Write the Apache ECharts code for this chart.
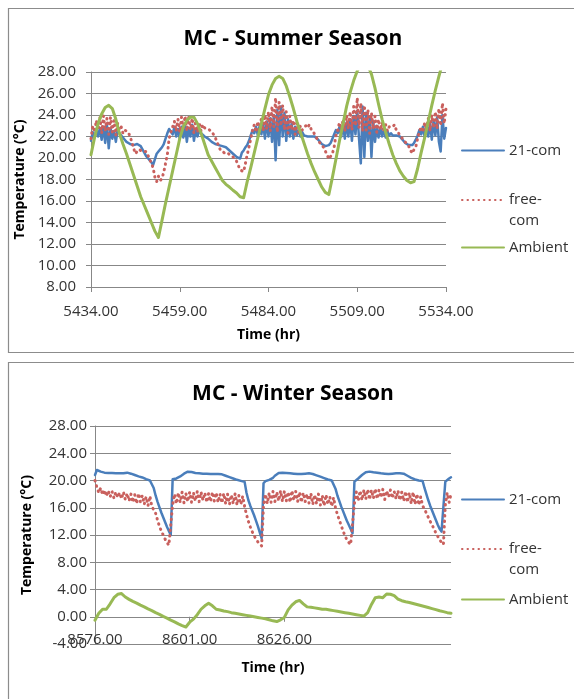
<!DOCTYPE html>
<html><head><meta charset="utf-8">
<script src="https://cdn.jsdelivr.net/npm/echarts@6/dist/echarts.min.js"></script>
<style>html,body{margin:0;padding:0;background:#fff}#c{width:574px;height:699px}</style>
</head><body><div id="c"></div>
<script>
// ---------- data ----------
const seriesNames = ['21-com', 'free-com', 'Ambient'];
const summerStart = 5434, summerEnd = 5534;
const winterStart = 8576, winterEnd = 8670;
const sampleStep = 0.5;   // hours between 21-com / free-com samples
const ambientStep = 1;    // hours between Ambient samples
const summerXTicks = [5434, 5459, 5484, 5509, 5534];
const winterXTicks = [8576, 8601, 8626, 8651];

const summer21com = [
  21.6, 22.4, 21.9, 22.6, 22.0, 22.8, 21.7, 22.9, 21.4, 23.1,
  20.9, 22.8, 21.8, 22.5, 21.5, 22.6, 22.3, 22.2, 21.9, 21.7,
  21.5, 21.4, 21.3, 21.2, 21.2, 21.2, 21.3, 21.3, 21.1, 20.8,
  20.5, 20.2, 20.0, 19.8, 19.6, 19.35, 19.3, 20.4, 20.6, 20.8,
  21.0, 21.3, 21.8, 22.3, 22.7, 22.8, 22.2, 22.9, 22.0, 22.7,
  21.8, 22.9, 21.9, 23.0, 21.5, 22.8, 22.0, 23.1, 21.6, 22.7,
  22.0, 22.6, 22.3, 22.2, 22.0, 21.9, 21.8, 21.7, 21.5, 21.4,
  21.3, 21.2, 21.2, 21.1, 21.1, 21.05, 21.0, 20.9, 20.7, 20.6,
  20.4, 20.3, 20.1, 20.0, 19.95, 20.5, 20.7, 21.0, 21.2, 21.6,
  22.1, 22.6, 22.3, 22.9, 22.1, 23.0, 22.2, 23.2, 21.8, 23.4,
  22.0, 23.7, 21.5, 24.0, 19.8, 24.5, 21.2, 24.8, 22.0, 24.2,
  21.6, 23.6, 22.0, 23.2, 21.8, 22.9, 22.1, 22.7, 22.0, 22.4,
  22.1, 22.0, 22.0, 22.0, 22.0, 22.0, 22.0, 21.9, 21.7, 21.5,
  21.3, 21.2, 21.1, 21.0, 21.2, 21.4, 21.8, 22.2, 22.6, 22.3,
  22.9, 22.0, 23.1, 21.8, 23.3, 22.0, 23.6, 21.6, 23.9, 22.2,
  24.4, 21.8, 19.5, 24.8, 20.1, 24.2, 21.6, 23.8, 20.1, 23.4,
  21.5, 23.0, 21.9, 22.8, 22.0, 22.6, 21.9, 22.5, 22.1, 22.3,
  22.1, 22.1, 22.1, 22.1, 22.0, 21.8, 21.6, 21.4, 21.3, 21.2,
  21.05, 21.2, 21.4, 21.7, 22.1, 22.6, 22.2, 22.9, 21.9, 23.1,
  22.0, 23.3, 21.7, 23.5, 22.1, 23.8, 21.5, 20.6, 24.0, 21.8, 22.8
];
const summerFreeCom = [
  21.8, 23.0, 22.4, 23.5, 22.6, 23.8, 22.3, 23.9, 22.5, 23.7,
  22.2, 23.8, 22.4, 23.5, 22.1, 23.2, 22.6, 22.9, 22.3, 22.6,
  22.6, 22.4, 22.0, 21.5, 20.9, 20.4, 20.6, 20.8, 20.7, 20.6,
  20.6, 20.6, 20.3, 19.9, 19.5, 19.1, 18.2, 17.8, 18.3, 17.9,
  18.1, 18.7, 19.5, 20.3, 21.8, 22.4, 22.9, 23.4, 22.5, 23.6,
  22.4, 23.8, 22.7, 23.9, 22.5, 23.8, 22.6, 23.7, 22.3, 23.5,
  22.4, 23.3, 22.5, 23.1, 22.8, 22.9, 22.7, 22.6, 22.45, 22.2,
  21.9, 21.5, 21.1, 20.7, 20.6, 20.5, 20.4, 20.5, 20.3, 20.2,
  20.1, 19.97, 19.7, 19.3, 18.9, 18.8, 18.73, 19.5, 20.3, 21.0,
  21.8, 22.6, 23.1, 22.4, 23.4, 22.6, 23.7, 22.5, 24.0, 22.7,
  24.3, 22.5, 24.8, 22.9, 25.6, 22.4, 25.2, 23.0, 24.9, 22.6,
  24.3, 22.3, 23.9, 22.6, 23.5, 22.2, 23.3, 22.4, 23.0, 22.6,
  22.8, 23.0, 22.8, 23.1, 22.7, 22.5, 22.2, 21.9, 21.6, 21.4,
  21.2, 21.0, 20.9, 20.3, 19.9, 19.8, 20.4, 21.05, 22.1, 22.6,
  23.3, 22.4, 23.6, 22.5, 24.0, 22.7, 24.3, 22.6, 24.8, 23.0,
  25.6, 22.8, 25.1, 22.5, 24.9, 22.6, 24.5, 22.3, 24.2, 22.7,
  23.9, 22.4, 23.6, 22.6, 23.3, 22.4, 23.1, 22.5, 22.9, 22.76,
  22.9, 23.1, 22.6, 22.4, 22.1, 21.9, 21.7, 21.6, 21.3, 21.1,
  20.7, 20.43, 20.8, 21.05, 21.8, 22.45, 22.9, 22.4, 23.3, 22.6,
  23.7, 22.5, 24.0, 22.8, 24.3, 22.7, 24.6, 23.0, 25.1, 23.2, 24.6
];
const summerAmbient = [
  20.3, 21.9, 23.2, 24.1, 24.7, 24.9, 24.6, 23.6, 22.3, 21.3,
  20.4, 19.4, 18.4, 17.4, 16.4, 15.6, 14.8, 14.0, 13.2, 12.6,
  14.2, 15.8, 17.3, 18.8, 20.3, 21.8, 22.9, 23.5, 23.8, 23.8,
  23.2, 22.3, 21.3, 20.3, 19.7, 19.1, 18.5, 17.9, 17.55, 17.3,
  17.0, 16.75, 16.4, 16.3, 17.8, 19.1, 20.5, 21.9, 23.2, 24.6,
  25.9, 26.8, 27.4, 27.6, 27.4, 26.7, 25.7, 24.6, 23.4, 22.4,
  21.4, 20.4, 19.5, 18.7, 18.0, 17.3, 16.8, 16.6, 18.2, 19.9,
  21.6, 23.2, 24.8, 26.1, 27.2, 28.1, 28.7, 28.9, 28.6, 27.8,
  26.5, 25.0, 23.6, 22.4, 21.3, 20.3, 19.5, 18.8, 18.3, 17.9,
  17.7, 17.8, 19.0, 20.5, 21.9, 23.4, 24.9, 26.3, 27.6, 28.8,
  29.8
];

const winter21com = [
  20.8, 21.54, 21.4, 21.3, 21.2, 21.15, 21.1, 21.1, 21.15, 21.1,
  21.1, 21.05, 21.1, 21.05, 21.0, 21.05, 21.06, 21.15, 21.15, 21.0,
  20.9, 20.8, 20.7, 20.6, 20.56, 20.45, 20.3, 20.2, 20.1, 20.0,
  19.93, 18.9, 17.8, 16.9, 16.1, 15.3, 14.6, 13.9, 13.2, 12.6,
  12.0, 20.17, 20.2, 20.3, 20.4, 20.6, 20.8, 21.0, 21.2, 21.3,
  21.3, 21.25, 21.2, 21.1, 21.05, 21.05, 21.0, 21.0, 21.0, 21.0,
  21.0, 20.95, 20.95, 20.95, 21.0, 20.95, 20.95, 20.9, 20.8, 20.7,
  20.6, 20.5, 20.4, 20.3, 20.2, 20.1, 20.0, 19.95, 19.9, 19.8,
  18.2, 17.1, 16.3, 15.6, 14.9, 14.1, 13.3, 12.4, 11.5, 19.6,
  19.9, 20.17, 20.1, 20.07, 20.4, 20.7, 20.9, 21.1, 21.15, 21.15,
  21.1, 21.1, 21.05, 21.05, 21.0, 21.0, 20.95, 20.95, 20.95, 20.95,
  20.95, 21.0, 21.0, 21.05, 21.05, 20.95, 20.85, 20.75, 20.65, 20.56,
  20.45, 20.35, 20.25, 20.15, 20.1, 20.0, 19.95, 18.8, 17.8, 17.0,
  16.2, 15.5, 14.8, 14.1, 13.5, 12.9, 12.25, 19.83, 20.1, 20.3,
  20.5, 20.8, 21.0, 21.2, 21.3, 21.3, 21.25, 21.2, 21.15, 21.15,
  21.1, 21.05, 21.0, 21.0, 20.95, 20.95, 20.95, 21.0, 21.0, 21.05,
  21.05, 21.05, 21.05, 21.0, 20.85, 20.7, 20.55, 20.4, 20.3, 20.15,
  20.05, 20.0, 19.95, 19.93, 18.9, 18.0, 17.1, 16.3, 15.6, 14.9,
  14.2, 13.5, 12.9, 12.5, 12.25, 19.83, 20.1, 20.3, 20.47
];
const winterFreeCom = [
  20.0, 19.0, 18.2, 18.9, 17.9, 18.6, 17.7, 18.5, 17.6, 18.4,
  17.4, 18.3, 17.5, 18.2, 17.3, 18.3, 17.2, 18.1, 17.0, 18.0,
  16.8, 17.9, 16.6, 18.1, 16.9, 17.8, 16.5, 17.6, 16.3, 17.7,
  16.2, 16.4, 15.2, 14.2, 13.3, 12.6, 12.0, 11.4, 10.9, 10.5,
  10.3, 16.4, 18.0, 16.6, 18.2, 16.8, 18.3, 16.7, 18.1, 16.9,
  18.3, 16.8, 18.2, 17.0, 18.4, 16.9, 18.3, 17.1, 18.2, 16.8,
  18.1, 16.9, 18.3, 17.0, 18.2, 16.8, 18.0, 16.7, 18.1, 16.6,
  18.0, 16.5, 17.9, 16.6, 18.1, 16.4, 17.8, 16.5, 17.7, 16.2,
  15.0, 14.0, 13.2, 12.5, 11.9, 11.4, 11.0, 10.7, 10.4, 16.3,
  18.0, 16.6, 18.2, 16.8, 18.4, 16.9, 18.3, 17.0, 18.5, 16.9,
  18.4, 17.0, 18.3, 16.8, 18.5, 17.1, 18.4, 16.9, 18.3, 16.8,
  18.2, 16.9, 18.0, 16.7, 18.1, 16.5, 17.9, 16.6, 18.0, 16.4,
  17.8, 16.3, 17.9, 16.5, 17.6, 16.2, 17.5, 16.0, 15.0, 14.2,
  13.4, 12.6, 11.9, 11.3, 10.9, 10.6, 10.4, 16.6, 18.3, 17.0,
  18.5, 17.1, 18.6, 17.3, 18.7, 17.2, 18.6, 17.4, 18.8, 17.3,
  18.6, 17.5, 18.7, 17.2, 18.5, 17.6, 18.6, 17.4, 18.4, 17.3,
  18.5, 17.1, 18.3, 17.0, 18.4, 16.8, 18.2, 16.6, 18.3, 16.5,
  18.0, 16.4, 17.6, 16.3, 15.8, 15.2, 14.6, 14.0, 13.5, 12.9,
  12.3, 11.8, 11.3, 10.9, 10.6, 16.4, 18.2, 16.8, 18.0
];
const winterAmbient = [
  -0.5, 0.5, 1.1, 1.1, 1.9, 2.8, 3.3, 3.4, 2.9, 2.55,
  2.25, 2.0, 1.7, 1.45, 1.15, 0.9, 0.6, 0.35, 0.05, -0.2,
  -0.5, -0.75, -1.05, -1.3, -1.5, -0.8, -0.35, 0.3, 1.1, 1.6,
  1.97, 1.6, 1.1, 1.0, 0.85, 0.75, 0.6, 0.5, 0.4, 0.3,
  0.2, 0.1, 0.0, -0.1, -0.2, -0.3, -0.45, -0.6, -0.7, -0.45,
  -0.1, 1.0, 1.7, 2.2, 2.4, 1.9, 1.45, 1.4, 1.3, 1.2,
  1.1, 1.09, 1.0, 0.9, 0.8, 0.7, 0.6, 0.5, 0.4, 0.3,
  0.2, 0.1, 0.6, 1.8, 2.8, 2.9, 2.8, 3.34, 3.3, 3.1,
  2.6, 2.35, 2.2, 2.1, 1.95, 1.8, 1.65, 1.5, 1.35, 1.2,
  1.05, 0.88, 0.75, 0.6, 0.5
];

// ---------- chart ----------
const FONT = 'Open Sans';
const GRID_COLOR = '#878787';
const TEXT_COLOR = '#333';
const COLORS = ['#4A7EBB', '#C9605D', '#98B954'];
const DOTS = [0.5, 5];

function pairs(start, step, values) {
  return values.map((v, i) => [start + i * step, v]);
}

function xAxisFor(idx, min, max, ticks, offset, margin, nameGap) {
  return {
    type: 'value', gridIndex: idx, min: min, max: max, interval: 25, offset: offset,
    name: 'Time (hr)', nameLocation: 'middle', nameGap: nameGap,
    nameTextStyle: { fontFamily: FONT, fontSize: 14, fontWeight: 'bold', color: '#000' },
    axisLine: { onZero: false, lineStyle: { color: GRID_COLOR, width: 1 } },
    axisTick: { show: true, inside: false, length: 5, lineStyle: { color: GRID_COLOR }, customValues: ticks },
    axisLabel: { fontFamily: FONT, fontSize: 15, color: TEXT_COLOR, margin: margin, showMaxLabel: idx === 0,
      customValues: ticks, formatter: v => v.toFixed(2) },
    splitLine: { show: false }
  };
}
function yAxisFor(idx, min, max, interval, gap, margin) {
  return {
    type: 'value', gridIndex: idx, min: min, max: max, interval: interval,
    name: 'Temperature (°C)', nameLocation: 'middle', nameGap: gap, nameRotate: 90,
    nameTextStyle: { fontFamily: FONT, fontSize: 14, fontWeight: 'bold', color: '#000' },
    axisLine: { show: true, onZero: false, lineStyle: { color: GRID_COLOR, width: 1 } },
    axisTick: { show: true, inside: false, length: 5, lineStyle: { color: GRID_COLOR } },
    axisLabel: { fontFamily: FONT, fontSize: 15, color: TEXT_COLOR, margin: margin, formatter: v => v.toFixed(2) },
    splitLine: { show: true, showMinLine: true, showMaxLine: true, lineStyle: { color: GRID_COLOR, width: 1 } }
  };
}
function lineSeries(name, idx, data, color, width, type) {
  return {
    name: name, type: 'line', xAxisIndex: idx, yAxisIndex: idx, data: data,
    showSymbol: false, symbol: 'none', clip: true, animation: false,
    lineStyle: { color: color, width: width, type: type || 'solid', join: 'round', cap: 'round' },
    itemStyle: { color: color }
  };
}
function legendFor(name, left, top) {
  return {
    data: [name], left: left, top: top, orient: 'vertical', padding: 0,
    itemWidth: 42, itemHeight: 14, itemGap: 0, selectedMode: false,
    itemStyle: { color: 'transparent', borderWidth: 0, opacity: 0 },
    textStyle: { fontFamily: FONT, fontSize: 15, color: TEXT_COLOR, lineHeight: 21 },
    formatter: n => n === 'free-com' ? '\nfree-\ncom' : n
  };
}

const chart = echarts.init(document.getElementById('c'), null, { renderer: 'canvas' });
chart.setOption({
  animation: false,
  backgroundColor: '#fff',
  graphic: [
    { type: 'rect', shape: { x: 8.5, y: 8.5, width: 600, height: 344 }, style: { fill: 'none', stroke: '#8c8c8c', lineWidth: 1.2 }, silent: true },
    { type: 'rect', shape: { x: 8.5, y: 362.5, width: 600, height: 400 }, style: { fill: 'none', stroke: '#8c8c8c', lineWidth: 1.2 }, silent: true }
  ],
  title: [
    { text: 'MC - Summer Season', left: 293, top: 29, textAlign: 'center', padding: 0,
      textStyle: { fontFamily: FONT, fontSize: 21, fontWeight: 'bold', color: '#000' } },
    { text: 'MC - Winter Season', left: 293, top: 384, textAlign: 'center', padding: 0,
      textStyle: { fontFamily: FONT, fontSize: 21, fontWeight: 'bold', color: '#000' } }
  ],
  legend: [
    legendFor('21-com', 461, 140), legendFor('free-com', 461, 168.5), legendFor('Ambient', 461, 237),
    legendFor('21-com', 461, 489), legendFor('free-com', 461, 517.5), legendFor('Ambient', 461, 589)
  ],
  grid: [
    { left: 91, top: 72, width: 355, height: 215, containLabel: false },
    { left: 95, top: 426, width: 356, height: 218, containLabel: false }
  ],
  xAxis: [
    xAxisFor(0, summerStart, summerEnd, summerXTicks, 0, 17, 41),
    xAxisFor(1, winterStart, winterEnd, winterXTicks, -27.25, 15, 44)
  ],
  yAxis: [
    yAxisFor(0, 8, 28, 2, 52, 15),
    yAxisFor(1, -4, 28, 4, 61, 8)
  ],
  series: [
    lineSeries(seriesNames[0], 0, pairs(summerStart, sampleStep, summer21com), COLORS[0], 2.5),
    lineSeries(seriesNames[1], 0, pairs(summerStart, sampleStep, summerFreeCom), COLORS[1], 3, DOTS),
    lineSeries(seriesNames[2], 0, pairs(summerStart, ambientStep, summerAmbient), COLORS[2], 3),
    lineSeries(seriesNames[0], 1, pairs(winterStart, sampleStep, winter21com), COLORS[0], 2.5),
    lineSeries(seriesNames[1], 1, pairs(winterStart, sampleStep, winterFreeCom), COLORS[1], 3, DOTS),
    lineSeries(seriesNames[2], 1, pairs(winterStart, ambientStep, winterAmbient), COLORS[2], 3)
  ]
});
</script></body></html>
